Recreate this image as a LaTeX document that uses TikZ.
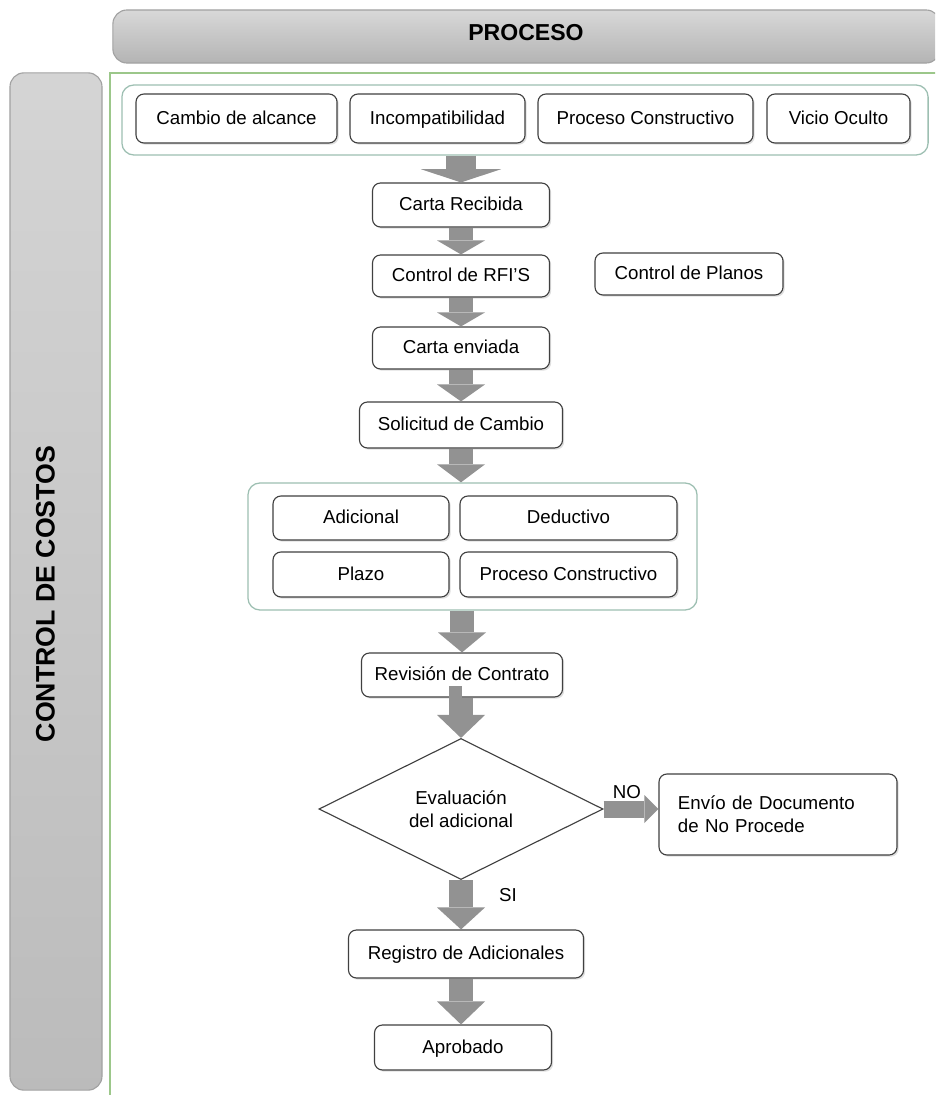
\documentclass[tikz,border=0pt]{standalone}
\usepackage{fontspec}
\setmainfont{Liberation Sans}
\usetikzlibrary{calc}
\usetikzlibrary{arrows.meta}
\usetikzlibrary{shapes.geometric}
\usetikzlibrary{shadows}

\definecolor{boxline}{HTML}{404040}
\definecolor{bartop}{HTML}{D8D8D8}
\definecolor{barbot}{HTML}{B4B4B4}
\definecolor{barline}{HTML}{A2A2A2}
\definecolor{framegreen}{HTML}{9CC78A}
\definecolor{grpline}{HTML}{9DBFB2}
\definecolor{arrowgray}{HTML}{929292}

\newcommand{\boxfont}{\fontsize{13.3}{16.4}\selectfont}

\tikzset{
  boxbase/.style={draw=boxline, line width=0.8pt, rounded corners=0.2cm, fill=white, font=\boxfont, inner sep=0pt,
    drop shadow={shadow xshift=1.2pt, shadow yshift=-1.2pt, opacity=0.25}},
  box/.style={boxbase, text height=9.6pt, text depth=1.5pt},
  grp/.style={draw=grpline, line width=0.9pt, rounded corners=0.3cm},
  flow/.style={draw=arrowgray, line width=0.6cm, -{Triangle[width=1.2cm 0, length=#1 0, line width=0pt 0]}},
  flow/.default=0.35cm,
  decision/.style={diamond, draw=boxline, line width=0.8pt, fill=white, font=\boxfont, align=center, inner sep=0pt,
    minimum width=7.1cm, minimum height=3.325cm},
  lane/.style={draw=barline, line width=0.8pt, rounded corners=0.35cm, top color=bartop, bottom color=barbot, inner sep=0pt},
}

\begin{document}
\begin{tikzpicture}[x=0.025cm, y=-0.025cm]
\clip (0,0) rectangle (935,1095);
\fill[white] (0,0) rectangle (935,1095);

\node[lane, minimum width=20.675cm, minimum height=1.325cm] (proceso) at (526.5,36.5) {};
\node[font=\fontsize{16.4}{18}\selectfont\bfseries] (procesotxt) at (526,33) {PROCESO};
\node[lane, top color=bartop!90!barbot, bottom color=barbot!80!bartop, minimum width=2.3cm, minimum height=25.425cm] (costos) at (56,581.5) {};
\node[rotate=90, font=\fontsize{19}{21}\selectfont\bfseries] (costostxt) at (45.5,594) {CONTROL DE COSTOS};

\draw[framegreen, line width=1pt] (110,73) rectangle (960,1120);

\node[grp, minimum width=20.15cm, minimum height=1.75cm] (grpA) at (525,120) {};
\node[box, minimum width=5.025cm, minimum height=1.225cm] (alcance) at (236.5,118.5) {Cambio de alcance};
\node[box, minimum width=4.375cm, minimum height=1.225cm] (incompat) at (437.5,118.5) {Incompatibilidad};
\node[box, minimum width=5.375cm, minimum height=1.225cm] (constructivoA) at (645.5,118.5) {Proceso Constructivo};
\node[box, minimum width=3.575cm, minimum height=1.225cm] (vicio) at (838.5,118.5) {Vicio Oculto};

\node[box, minimum width=4.425cm, minimum height=1.1cm] (recibida) at (461,205) {Carta Recibida};
\node[box, minimum width=4.425cm, minimum height=1.05cm] (rfi) at (461,276) {Control de RFI’S};
\node[box, minimum width=4.7cm, minimum height=1.05cm] (planos) at (689,274) {Control de Planos};
\node[box, minimum width=4.425cm, minimum height=1.05cm] (enviada) at (461,348) {Carta enviada};
\node[box, minimum width=5.075cm, minimum height=1.15cm] (solicitud) at (461,425) {Solicitud de Cambio};

\node[grp, minimum width=11.225cm, minimum height=3.175cm] (grpB) at (472.5,546.5) {};
\node[box, minimum width=4.4cm, minimum height=1.1cm] (adicional) at (361,518) {Adicional};
\node[box, minimum width=5.425cm, minimum height=1.1cm] (deductivo) at (568.5,518) {Deductivo};
\node[box, minimum width=4.4cm, minimum height=1.125cm] (plazo) at (361,574.5) {Plazo};
\node[box, minimum width=5.425cm, minimum height=1.125cm] (constructivoB) at (568.5,574.5) {Proceso Constructivo};

\node[box, minimum width=5.025cm, minimum height=1.1cm] (revision) at (462,675) {Revisión de Contrato};
\node[decision] (evaluacion) at (461,809) {Evaluación\\del adicional};
\node[boxbase, minimum width=5.95cm, minimum height=2.025cm, text width=5cm, inner xsep=0.475cm, align=left] (envio) at (778,814.5) {Envío de Documento\\de No Procede};
\node[box, minimum width=5.875cm, minimum height=1.2cm] (registro) at (466,954) {Registro de Adicionales};
\node[box, minimum width=4.425cm, minimum height=1.125cm] (aprobado) at (463,1047.5) {Aprobado};

\node[font=\boxfont] (no) at (627,792) {NO};
\node[font=\boxfont] (si) at (508,895) {SI};

\draw[draw=arrowgray, line width=0.75cm, -{Triangle[width=2cm 0, length=0.33cm 0, line width=0pt 0]}] (grpA.south -| recibida.north) -- (recibida.north);
\draw[flow] (recibida) -- (rfi);
\draw[flow] (rfi) -- (enviada);
\draw[flow=0.425cm] (enviada) -- (solicitud);
\draw[flow=0.45cm] (solicitud.south) -- (solicitud.south |- grpB.north);
\draw[flow=0.5cm] (grpB.south -| revision.north) -- (revision.north);
\draw[flow=0.575cm] (revision.south) -- (revision.south -| evaluacion.north) -- (evaluacion.north);
\draw[draw=arrowgray, line width=0.425cm, -{Triangle[width=0.7cm 0, length=0.35cm 0, line width=0pt 0]}] (evaluacion.east) -- (evaluacion.east -| envio.west);
\draw[flow=0.55cm] (evaluacion.south) -- (evaluacion.south |- registro.north);
\draw[flow=0.575cm] (registro.south -| evaluacion.south) -- (aprobado.north -| evaluacion.south);

\end{tikzpicture}
\end{document}
